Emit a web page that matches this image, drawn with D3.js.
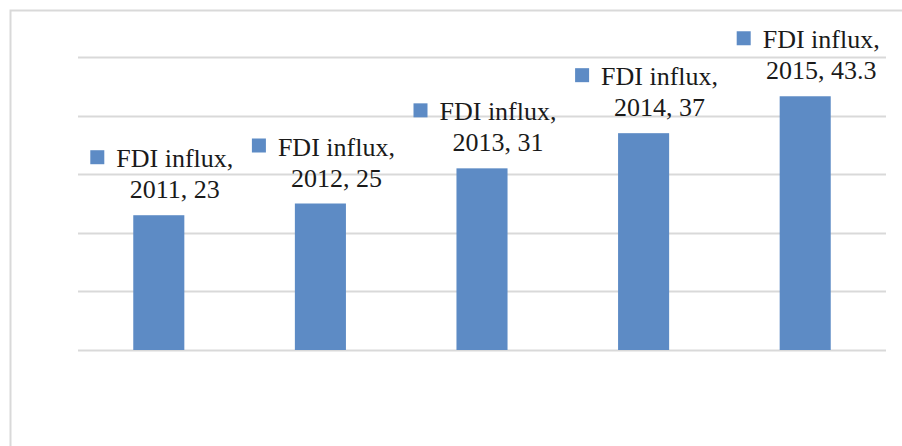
<!DOCTYPE html>
<html>
<head>
<meta charset="utf-8">
<script src="https://cdn.jsdelivr.net/npm/d3@7"></script>
<style>
  html, body { margin: 0; padding: 0; background: #fff; }
  svg { display: block; }
  .lbl text { font-family: "Liberation Serif", "Times New Roman", Times, "DejaVu Serif", serif; font-size: 26px; }
</style>
</head>
<body>
<div id="chart"></div>
<script>
// chart data
var seriesName = "FDI influx";
var years = ["2011", "2012", "2013", "2014", "2015"];
var values = [23, 25, 31, 37, 43.3];
var gridTicks = [0, 10, 20, 30, 40, 50];

var width = 902, height = 446;
var margin = { top: 57, right: 16, bottom: 96, left: 78 };

var svg = d3.select("#chart").append("svg")
    .attr("width", width)
    .attr("height", height);

// chart area border
svg.append("rect")
    .attr("x", 10.5)
    .attr("y", 10.5)
    .attr("width", width + 20)
    .attr("height", height + 20)
    .attr("fill", "#fff")
    .attr("stroke", "#d9d9d9")
    .attr("stroke-width", 2);

var x = d3.scaleBand()
    .domain(years)
    .range([margin.left, width - margin.right])
    .paddingInner(0.684)
    .paddingOuter(0.342);

var y = d3.scaleLinear()
    .domain([0, 50])
    .range([height - margin.bottom, margin.top]);

// gridlines
svg.append("g")
    .selectAll("line")
    .data(gridTicks)
    .join("line")
    .attr("x1", margin.left)
    .attr("x2", width - margin.right)
    .attr("y1", d => Math.round(y(d)) + 0.5)
    .attr("y2", d => Math.round(y(d)) + 0.5)
    .attr("stroke", "#d9d9d9")
    .attr("stroke-width", 2);

var data = years.map((yr, i) => ({ year: yr, value: values[i] }));

// bars
svg.append("g")
    .selectAll("rect")
    .data(data)
    .join("rect")
    .attr("x", d => x(d.year))
    .attr("y", d => y(d.value))
    .attr("width", x.bandwidth())
    .attr("height", d => y(0) - y(d.value))
    .attr("fill", "#5d8bc5");

// data labels: legend key + two centered lines
var keySize = 14, keyGap = 12;
var labels = svg.append("g")
    .attr("class", "lbl")
    .selectAll("g")
    .data(data)
    .join("g")
    .attr("fill", "#1a1a1a");

labels.each(function (d) {
    var g = d3.select(this);
    var base2 = y(d.value) - 17;
    var base1 = base2 - 31;
    var t1 = g.append("text").attr("y", base1).attr("text-anchor", "middle").text(seriesName + ",");
    var t2 = g.append("text").attr("y", base2).attr("text-anchor", "middle").text(d.year + ", " + d.value);
    var w = Math.max(t1.node().getComputedTextLength(), t2.node().getComputedTextLength());
    var blockW = keySize + keyGap + w;
    var cx = x(d.year) + x.bandwidth() / 2 + 3;
    var left = cx - blockW / 2;
    var textCx = left + keySize + keyGap + w / 2;
    t1.attr("x", textCx);
    t2.attr("x", textCx);
    g.append("rect")
        .attr("x", left)
        .attr("y", base1 - 17)
        .attr("width", keySize)
        .attr("height", keySize)
        .attr("fill", "#5d8bc5");
});
</script>
</body>
</html>
